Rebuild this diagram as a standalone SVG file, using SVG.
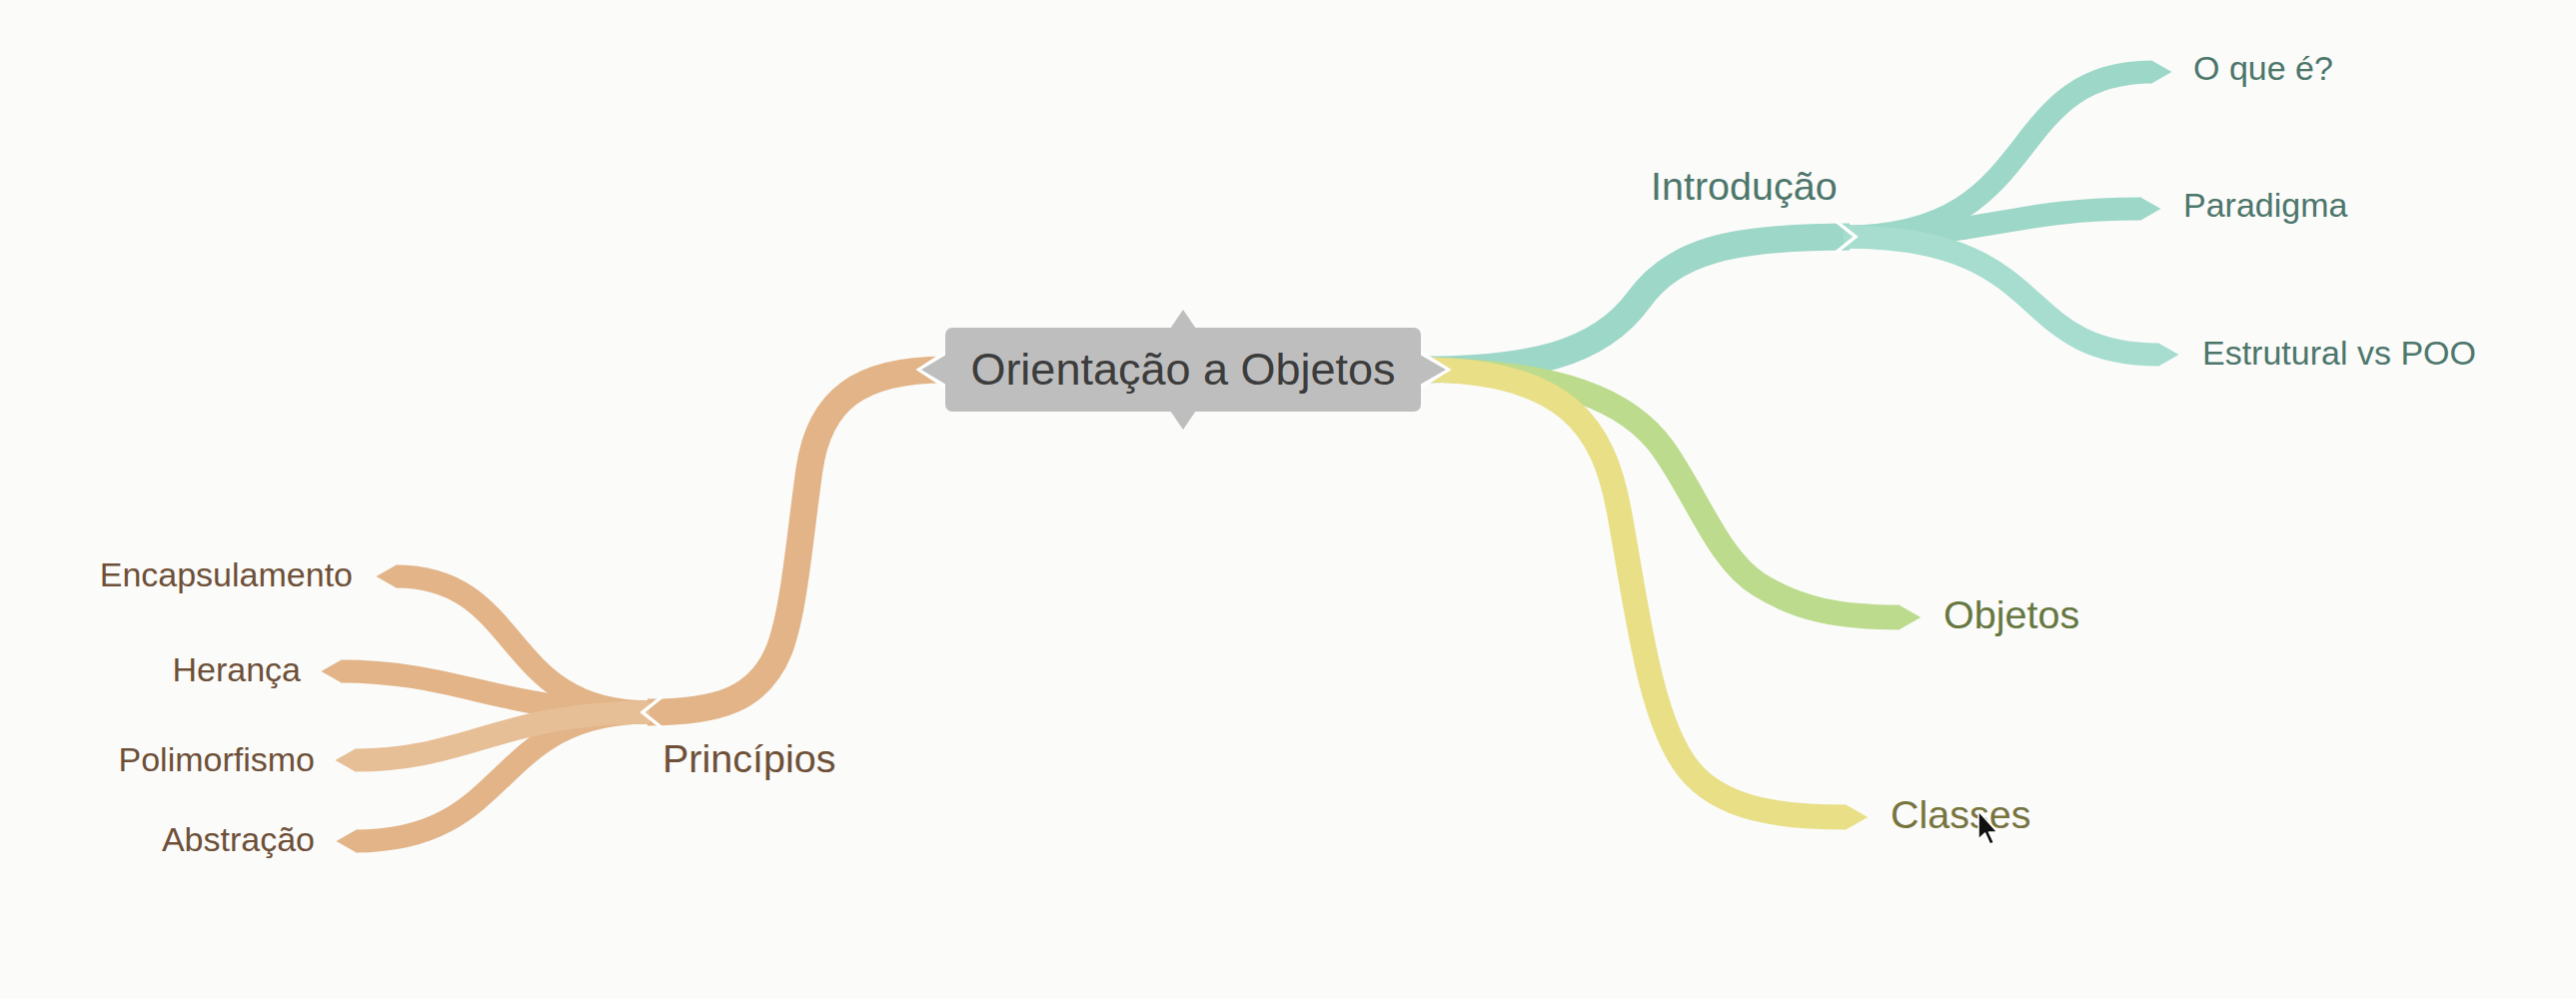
<svg xmlns="http://www.w3.org/2000/svg" width="2578" height="1000" viewBox="0 0 2578 1000">
<style>
.band{fill:none;stroke-linecap:butt}
.main{stroke-width:27}
.sub{stroke-width:25}
.leaf{stroke-width:23}
.or{stroke:#e2b487}.orl{stroke:#e7bf96}
.te{stroke:#9dd7c7}.tel{stroke:#a6ddcf}
.gr{stroke:#bcdb8c}.ye{stroke:#e8df86}
.cut{fill:none;stroke:#ffffff;stroke-width:3.5;stroke-linejoin:miter}
text{font-family:"Liberation Sans",Arial,Helvetica,sans-serif}
.t-root{font-size:45px;fill:#3c3c3c}
.t-main{font-size:39.5px}
.t-leaf{font-size:34px}
.c-or{fill:#6e5038}.c-te{fill:#4d766b}.c-gr{fill:#66773f}.c-ye{fill:#77743e}
.notch{fill:#bebebe}
</style>
<defs>
<marker id="tipOr" viewBox="0 -0.5 0.85 1" refX="0" refY="0" markerWidth="0.85" markerHeight="1" orient="auto" markerUnits="strokeWidth" overflow="visible"><path d="M-0.03,-0.5 L0.85,0 L-0.03,0.5Z" fill="#e2b487"/></marker>
<marker id="tipOrl" viewBox="0 -0.5 0.85 1" refX="0" refY="0" markerWidth="0.85" markerHeight="1" orient="auto" markerUnits="strokeWidth" overflow="visible"><path d="M-0.03,-0.5 L0.85,0 L-0.03,0.5Z" fill="#e7bf96"/></marker>
<marker id="tipTe" viewBox="0 -0.5 0.85 1" refX="0" refY="0" markerWidth="0.85" markerHeight="1" orient="auto" markerUnits="strokeWidth" overflow="visible"><path d="M-0.03,-0.5 L0.85,0 L-0.03,0.5Z" fill="#9dd7c7"/></marker>
<marker id="tipTel" viewBox="0 -0.5 0.85 1" refX="0" refY="0" markerWidth="0.85" markerHeight="1" orient="auto" markerUnits="strokeWidth" overflow="visible"><path d="M-0.03,-0.5 L0.85,0 L-0.03,0.5Z" fill="#a6ddcf"/></marker>
<marker id="tipGr" viewBox="0 -0.5 0.85 1" refX="0" refY="0" markerWidth="0.85" markerHeight="1" orient="auto" markerUnits="strokeWidth" overflow="visible"><path d="M-0.03,-0.5 L0.85,0 L-0.03,0.5Z" fill="#bcdb8c"/></marker>
<marker id="tipYe" viewBox="0 -0.5 0.85 1" refX="0" refY="0" markerWidth="0.85" markerHeight="1" orient="auto" markerUnits="strokeWidth" overflow="visible"><path d="M-0.03,-0.5 L0.85,0 L-0.03,0.5Z" fill="#e8df86"/></marker>
</defs>
<rect x="0" y="0" width="2578" height="1000" fill="#fbfbfa"/>

<g id="connectors">
  <!-- root to Princípios -->
  <path class="band main or" d="M946,370 C860,370 820,400 810,470 C800,540 795,610 780,650 C760,700 720,713 648,713"/>
  <!-- Princípios children -->
  <path class="band leaf or" marker-end="url(#tipOr)" d="M650,713 C500,713 525,577 396,577"/>
  <path class="band leaf or" marker-end="url(#tipOr)" d="M650,713 C500,713 460,672 341,672"/>
  <path class="band leaf or" marker-end="url(#tipOr)" d="M650,713 C490,713 515,842 356,842"/>
  <path class="band leaf orl" marker-end="url(#tipOrl)" d="M650,713 C500,713 470,761 355,761"/>
  <polyline class="cut" points="663,697 643,713 663,729"/>

  <!-- root to Introdução -->
  <path class="band main te" d="M1422,370 C1530,370 1600,355 1640,300 C1675,252 1730,237 1851,237"/>
  <path class="band leaf te" marker-end="url(#tipTe)" d="M1845,237 C2050,237 2000,72 2154,72"/>
  <path class="band leaf te" marker-end="url(#tipTe)" d="M1845,237 C1990,237 2010,209 2143,209"/>
  <path class="band leaf tel" marker-end="url(#tipTel)" d="M1845,237 C2060,237 2010,355 2161,355"/>
  <polyline class="cut" points="1837,221 1857,237 1837,253"/>

  <!-- root to Objetos -->
  <path class="band sub gr" marker-end="url(#tipGr)" d="M1422,370 C1560,372 1630,400 1665,450 C1700,500 1720,560 1760,585 C1800,610 1840,618 1901,618"/>
  <!-- root to Classes -->
  <path class="band sub ye" marker-end="url(#tipYe)" d="M1422,370 C1570,370 1605,430 1620,510 C1638,606 1650,720 1690,770 C1722,810 1780,818 1848,818"/>
</g>

<g id="node-root">
  <polyline points="947,353 921,370 947,387" fill="none" stroke="#ffffff" stroke-width="5"/>
  <polyline points="1421,353 1448,370 1421,387" fill="none" stroke="#ffffff" stroke-width="5"/>
  <rect x="946" y="328" width="476" height="84" rx="7" ry="7" fill="#bebebe"/>
  <polygon class="notch" points="1171,329 1184,310 1197,329"/>
  <polygon class="notch" points="1171,411 1184,430 1197,411"/>
  <polygon class="notch" points="947,355 922,370 947,385"/>
  <polygon class="notch" points="1421,355 1447,370 1421,385"/>
  <text class="t-root" x="1184" y="385" text-anchor="middle">Orientação a Objetos</text>
</g>

<g id="node-principios"><text class="t-main c-or" x="663" y="773">Princípios</text></g>
<g id="node-encapsulamento"><text class="t-leaf c-or" x="353" y="587" text-anchor="end">Encapsulamento</text></g>
<g id="node-heranca"><text class="t-leaf c-or" x="301" y="682" text-anchor="end">Herança</text></g>
<g id="node-polimorfismo"><text class="t-leaf c-or" x="315" y="772" text-anchor="end">Polimorfismo</text></g>
<g id="node-abstracao"><text class="t-leaf c-or" x="315" y="852" text-anchor="end">Abstração</text></g>

<g id="node-introducao"><text class="t-main c-te" x="1652" y="200">Introdução</text></g>
<g id="node-oque"><text class="t-leaf c-te" x="2195" y="80">O que é?</text></g>
<g id="node-paradigma"><text class="t-leaf c-te" x="2185" y="217">Paradigma</text></g>
<g id="node-estrutural"><text class="t-leaf c-te" x="2204" y="365">Estrutural vs POO</text></g>

<g id="node-objetos"><text class="t-main c-gr" x="1945" y="629">Objetos</text></g>
<g id="node-classes"><text class="t-main c-ye" x="1892" y="829">Classes</text></g>

<path d="M1980,812 L1980,840 L1986.5,834 L1991.5,845 L1995.5,843.5 L1990.5,833 L1999,833 Z" fill="#111111" stroke="#ffffff" stroke-width="1.5" stroke-linejoin="round"/>
</svg>
